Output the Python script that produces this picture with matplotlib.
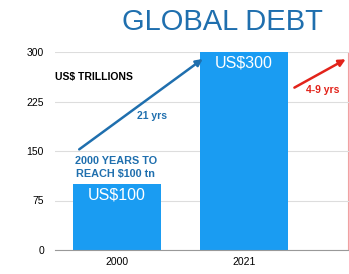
import matplotlib.pyplot as plt

plt.rcParams['font.family'] = ['Liberation Sans', 'DejaVu Sans']

years = ['2000', '2021']
debt_tn = [100, 300]
bar_labels = ['US$100', 'US$300']
y_ticks = [0, 75, 150, 225, 300]

bar_blue = '#1a9cf2'
dark_blue = '#1f6fae'
red = '#e2231a'

fig = plt.figure(figsize=(3.49, 2.74), dpi=100)
ax = fig.add_axes([55 / 349, 24 / 274, 1 - 55 / 349, 198 / 274])

x = list(range(len(years)))
ax.bar(x, debt_tn, width=0.7, color=bar_blue, zorder=2)
for xi, v, lab in zip(x, debt_tn, bar_labels):
    ax.text(xi, v - 6, lab, color='white', ha='center', va='top', fontsize=11.5, zorder=3)

ax.set_xlim(-0.488, 1.827)
ax.set_ylim(0, 300)
ax.set_xticks(x)
ax.set_xticklabels(years, fontsize=7.5)
ax.set_yticks(y_ticks)
ax.tick_params(axis='y', labelsize=7.5, length=0, pad=8)
ax.tick_params(axis='x', length=0, pad=5)
ax.grid(axis='y', color='#dddddd', lw=0.8, zorder=0)
for s in ['top', 'right', 'left']:
    ax.spines[s].set_visible(False)
ax.spines['bottom'].set_color('#999999')
ax.axvline(1.82, color='#f0a0a0', lw=0.8, zorder=1)

# arrows
ax.annotate('', xy=(0.693, 292), xytext=(-0.315, 150),
            arrowprops=dict(arrowstyle='-|>', color=dark_blue, lw=1.8, mutation_scale=10),
            annotation_clip=False)
ax.annotate('', xy=(1.82, 291), xytext=(1.378, 244),
            arrowprops=dict(arrowstyle='-|>', color=red, lw=1.8, mutation_scale=10),
            annotation_clip=False)

ax.text(0.276, 203, '21 yrs', color=dark_blue, fontsize=7.5, fontweight='bold', ha='center', va='center')
ax.text(1.62, 243, '4-9 yrs', color=red, fontsize=7.5, fontweight='bold', ha='center', va='center')
ax.text(-0.49, 262, 'US$ TRILLIONS', color='black', fontsize=7.5, fontweight='bold', ha='left', va='center')
ax.text(-0.01, 125, '2000 YEARS TO\nREACH $100 tn', color=dark_blue, fontsize=7.8,
        fontweight='bold', ha='center', va='center', linespacing=1.25)

fig.text(222 / 349, 1 - 22 / 274, 'GLOBAL DEBT', color=dark_blue, fontsize=21,
         ha='center', va='center')

fig.savefig('out.png', dpi=100)
